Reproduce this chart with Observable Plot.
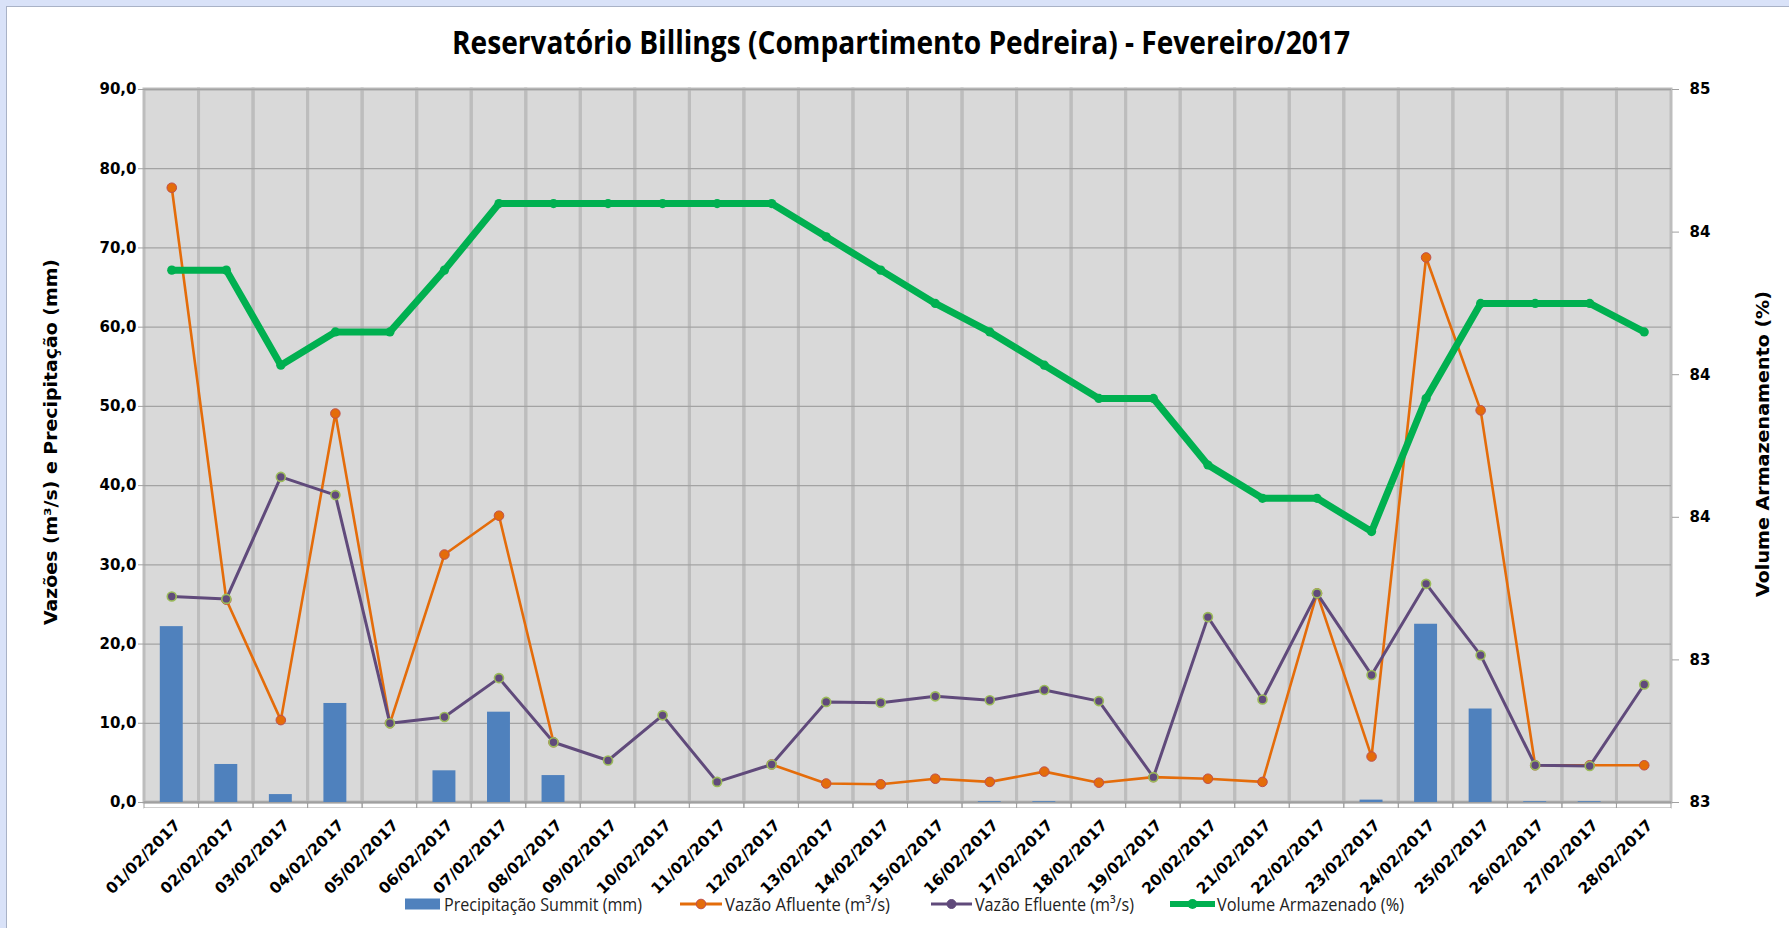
<!DOCTYPE html>
<html>
<head>
<meta charset="utf-8">
<script src="https://cdn.jsdelivr.net/npm/d3@7"></script>
<script src="https://cdn.jsdelivr.net/npm/@observablehq/plot@0.6"></script>
<style>
  html, body { margin: 0; padding: 0; background: #d9e2f8; overflow: hidden; }
  #wrap { position: relative; width: 1789px; height: 928px; }
  #panel { position: absolute; left: 6px; top: 6px; right: 0; bottom: 0; background: #ffffff;
           border-left: 1.5px solid #a9b2c6; border-top: 1.5px solid #a9b2c6; }
  #chart { position: absolute; left: 0; top: 0; }
</style>
</head>
<body>
<div id="wrap"><div id="panel"></div><div id="chart"></div></div>
<script>
// ---------------- data ----------------
const dias = [
  "01/02/2017","02/02/2017","03/02/2017","04/02/2017","05/02/2017","06/02/2017","07/02/2017",
  "08/02/2017","09/02/2017","10/02/2017","11/02/2017","12/02/2017","13/02/2017","14/02/2017",
  "15/02/2017","16/02/2017","17/02/2017","18/02/2017","19/02/2017","20/02/2017","21/02/2017",
  "22/02/2017","23/02/2017","24/02/2017","25/02/2017","26/02/2017","27/02/2017","28/02/2017"
];
const precipitacao = [22.2, 4.8, 1.0, 12.5, 0, 4.0, 11.4, 3.4, 0, 0, 0, 0, 0, 0,
                      0, 0.1, 0.1, 0, 0, 0, 0, 0, 0.3, 22.5, 11.8, 0.1, 0.1, 0];
const vazaoAfluente = [77.6, 25.6, 10.4, 49.1, 10.0, 31.3, 36.2, 7.6, null, null, null, 4.8, 2.4, 2.3,
                       3.0, 2.6, 3.9, 2.5, 3.2, 3.0, 2.6, 26.4, 5.8, 68.8, 49.5, 4.7, 4.7, 4.7];
const vazaoEfluente = [26.0, 25.7, 41.1, 38.8, 10.0, 10.8, 15.7, 7.6, 5.3, 11.0, 2.6, 4.8, 12.7, 12.6,
                       13.4, 12.9, 14.2, 12.8, 3.2, 23.4, 13.0, 26.4, 16.1, 27.6, 18.6, 4.7, 4.6, 14.9];
const volumeArmazenado = [84.12, 84.12, 83.92, 83.99, 83.99, 84.12, 84.26, 84.26, 84.26, 84.26, 84.26, 84.26, 84.19, 84.12,
                          84.05, 83.99, 83.92, 83.85, 83.85, 83.71, 83.64, 83.64, 83.57, 83.85, 84.05, 84.05, 84.05, 83.99];

// axis ticks
const yDomain = [0, 90];
const yTicks = [0, 10, 20, 30, 40, 50, 60, 70, 80, 90];
const volDomain = [83.0, 84.5];
const volTicks = [83.0, 83.3, 83.6, 83.9, 84.2, 84.5];

// text
const titulo = "Reservatório Billings (Compartimento Pedreira) - Fevereiro/2017";
const tituloEixoY = "Vazões (m³/s) e Precipitação (mm)";
const tituloEixoY2 = "Volume Armazenamento (%)";
const legendas = ["Precipitação Summit (mm)", "Vazão Afluente (m³/s)", "Vazão Efluente (m³/s)", "Volume Armazenado (%)"];

// colours
const cBar = "#4f81bd", cAfl = "#e46c0a", cAflEdge = "#c0504d",
      cEfl = "#604a7b", cEflEdge = "#9bbb59", cVol = "#00b050";

// ---------------- table ----------------
const rows = dias.map((d, i) => ({
  dia: d, precip: precipitacao[i], afl: vazaoAfluente[i], efl: vazaoEfluente[i], vol: volumeArmazenado[i]
}));
// secondary axis mapped onto the primary y scale
const volToY = d3.scaleLinear(volDomain, yDomain);

const W = 1789, H = 928;
const chart = Plot.plot({
  width: W, height: H,
  marginLeft: 144, marginRight: 118, marginTop: 89, marginBottom: 126,
  style: { fontFamily: "DejaVu Sans", fontSize: "15px", background: "transparent", color: "#000", overflow: "visible" },
  x: { type: "band", domain: dias, padding: 0, round: false, label: null },
  y: { domain: yDomain, label: null },
  marks: [
    Plot.frame({ fill: "#d9d9d9", stroke: null }),
    // vertical category gridlines (band boundaries)
    Plot.barY(dias, { x: d => d, y1: yDomain[0], y2: yDomain[1], fill: "none", stroke: "#bdbdbd", strokeWidth: 3 }),
    // horizontal gridlines
    Plot.gridY({ ticks: yTicks, stroke: "#a3a3a3", strokeOpacity: 1, strokeWidth: 1.3 }),
    // x tick marks at band boundaries
    Plot.barY(dias, { x: d => d, y1: 0, y2: 0, insetBottom: -6, fill: "none", stroke: "#a0a0a0", strokeWidth: 1 }),
    Plot.ruleY([0], { stroke: "#ffffff", strokeWidth: 2, dy: 6.5 }),
    Plot.ruleY([0], { stroke: "#a0a0a0", strokeWidth: 1.5 }),
    // precipitation bars
    Plot.barY(rows, { x: "dia", y: "precip", fill: cBar, insetLeft: 15.8, insetRight: 15.8 }),
    // vazão afluente
    Plot.line(rows, { x: "dia", y: "afl", stroke: cAfl, strokeWidth: 2.6, strokeLinejoin: "round" }),
    Plot.dot(rows, { x: "dia", y: "afl", r: 4.8, fill: cAfl, stroke: cAflEdge, strokeWidth: 1 }),
    // vazão efluente
    Plot.line(rows, { x: "dia", y: "efl", stroke: cEfl, strokeWidth: 3, strokeLinejoin: "round" }),
    Plot.dot(rows, { x: "dia", y: "efl", r: 4.5, fill: cEfl, stroke: cEflEdge, strokeWidth: 1.6 }),
    // volume armazenado (secondary axis)
    Plot.line(rows, { x: "dia", y: d => volToY(d.vol), stroke: cVol, strokeWidth: 7, strokeLinejoin: "round" }),
    Plot.dot(rows, { x: "dia", y: d => volToY(d.vol), r: 4.6, fill: cVol }),
    // left axis: ticks + labels
    Plot.axisY({ ticks: yTicks, tickSize: 6, tickFormat: () => "", color: "#a0a0a0" }),
    Plot.axisY({ ticks: yTicks, tickSize: 0, tickPadding: 8, fontWeight: "bold",
                 tickFormat: d => d.toFixed(1).replace(".", ","), color: "#000" }),
    // right axis: ticks + labels
    Plot.axisY({ anchor: "right", ticks: volTicks.map(v => volToY(v)), tickSize: 7, tickFormat: () => "", color: "#a0a0a0" }),
    Plot.axisY({ anchor: "right", ticks: volTicks.map(v => volToY(v)), tickSize: 0, tickPadding: 18, fontWeight: "bold",
                 tickFormat: y => String(Math.round(volToY.invert(y) + 1e-9)), color: "#000" }),
    // x labels
    Plot.axisX({ tickSize: 0, tickPadding: 20, dx: 6, tickRotate: -45, fontWeight: "bold", fontSize: 15.5, color: "#000" })
  ]
});
document.getElementById("chart").appendChild(chart);

// ---------------- title, axis titles, legend ----------------
const svg = d3.select(chart);
const narrow = "'Liberation Sans Narrow', 'Open Sans', Lato, sans-serif";

svg.append("text")
  .attr("x", 901).attr("y", 54)
  .attr("text-anchor", "middle")
  .attr("font-family", narrow).attr("font-weight", "bold").attr("font-size", 32)
  .attr("textLength", 898).attr("lengthAdjust", "spacingAndGlyphs")
  .attr("fill", "#000")
  .text(titulo);

svg.append("text")
  .attr("transform", "translate(51,442) rotate(-90)")
  .attr("text-anchor", "middle").attr("dominant-baseline", "central")
  .attr("font-family", "DejaVu Sans").attr("font-weight", "bold").attr("font-size", 17)
  .attr("textLength", 366).attr("lengthAdjust", "spacingAndGlyphs")
  .attr("fill", "#000")
  .text(tituloEixoY);

svg.append("text")
  .attr("transform", "translate(1763,444) rotate(-90)")
  .attr("text-anchor", "middle").attr("dominant-baseline", "central")
  .attr("font-family", "DejaVu Sans").attr("font-weight", "bold").attr("font-size", 17)
  .attr("textLength", 306).attr("lengthAdjust", "spacingAndGlyphs")
  .attr("fill", "#000")
  .text(tituloEixoY2);

const ly = 904;
const leg = svg.append("g").attr("font-family", narrow).attr("font-size", 19).attr("fill", "#222")
  .attr("text-anchor", "start");
// 1: bars
leg.append("rect").attr("x", 405).attr("y", ly - 5.5).attr("width", 35).attr("height", 11).attr("fill", cBar);
leg.append("text").attr("x", 444).attr("y", ly + 6.5).attr("text-anchor", "start").attr("textLength", 198).attr("lengthAdjust", "spacingAndGlyphs").text(legendas[0]);
// 2: afluente
leg.append("line").attr("x1", 680).attr("x2", 722).attr("y1", ly).attr("y2", ly).attr("stroke", cAfl).attr("stroke-width", 3);
leg.append("circle").attr("cx", 701).attr("cy", ly).attr("r", 4.8).attr("fill", cAfl).attr("stroke", cAflEdge);
leg.append("text").attr("x", 725).attr("y", ly + 6.5).attr("text-anchor", "start").attr("textLength", 165).attr("lengthAdjust", "spacingAndGlyphs").text(legendas[1]);
// 3: efluente
leg.append("line").attr("x1", 931).attr("x2", 972).attr("y1", ly).attr("y2", ly).attr("stroke", cEfl).attr("stroke-width", 3);
leg.append("circle").attr("cx", 951.5).attr("cy", ly).attr("r", 4.5).attr("fill", cEfl).attr("stroke", cEfl);
leg.append("text").attr("x", 975).attr("y", ly + 6.5).attr("text-anchor", "start").attr("textLength", 159).attr("lengthAdjust", "spacingAndGlyphs").text(legendas[2]);
// 4: volume
leg.append("line").attr("x1", 1170).attr("x2", 1215).attr("y1", ly).attr("y2", ly).attr("stroke", cVol).attr("stroke-width", 6);
leg.append("circle").attr("cx", 1192.5).attr("cy", ly).attr("r", 5).attr("fill", cVol);
leg.append("text").attr("x", 1217).attr("y", ly + 6.5).attr("text-anchor", "start").attr("textLength", 187).attr("lengthAdjust", "spacingAndGlyphs").text(legendas[3]);
</script>
</body>
</html>
